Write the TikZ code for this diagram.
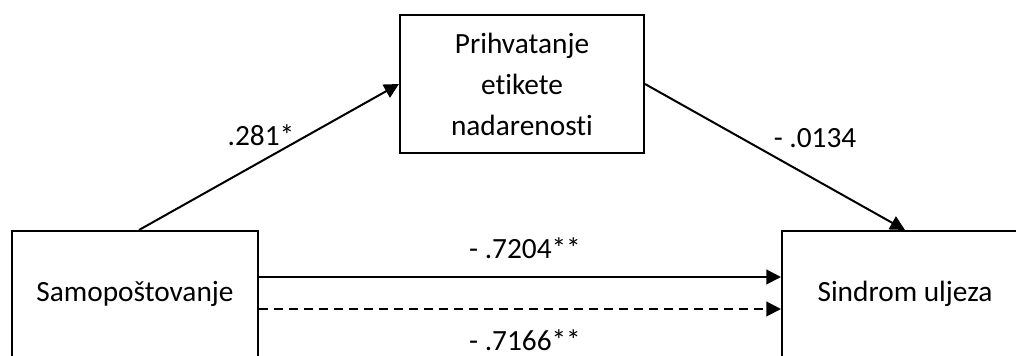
\documentclass[tikz,border=0pt]{standalone}
\usepackage{fontspec}
\setmainfont[Ligatures=NoCommon]{Carlito}
\usetikzlibrary{arrows.meta,calc}
\begin{document}
\begin{tikzpicture}[x=0.75pt,y=-0.75pt,
  box/.style={draw,line width=1.5pt,minimum width=184.5pt,align=center,inner sep=0pt},
  conn/.style={line width=1.5pt,-{Triangle[length=11pt,width=11pt]}},
  lbl/.style={font=\fontsize{22}{30.75}\selectfont,inner sep=0pt},
  every node/.style={font=\fontsize{22}{30.75}\selectfont}]
\useasboundingbox (0,0) rectangle (1016,356);
\begin{scope}
\clip (0,0) rectangle (1016,356);
\node[box,minimum height=103.5pt,minimum width=183pt] (T) at (522,84) {Prihvatanje\\etikete\\nadarenosti};
\node[box,minimum height=94.5pt] (L) at (135,294) {Samopoštovanje};
\node[box,minimum height=94.5pt] (R) at (905,294) {Sindrom uljeza};
\end{scope}
\draw[conn] ([xshift=3pt]L.north) -- (T.west);
\draw[conn] (T.east) -- (R.north);
\draw[conn] ([yshift=12.75pt]L.east) -- ([yshift=12.75pt]R.west);
\draw[conn,dash pattern=on 6.75pt off 4.5pt] ([yshift=-11.25pt]L.east) -- ([yshift=-11.25pt]R.west);
\node[lbl] (a) at (261,135) {.281*};
\node[lbl] (b) at (815,138) {- .0134};
\node[lbl] (c) at (525,248) {- .7204**};
\node[lbl] (d) at (525,340) {- .7166**};
\end{tikzpicture}
\end{document}
